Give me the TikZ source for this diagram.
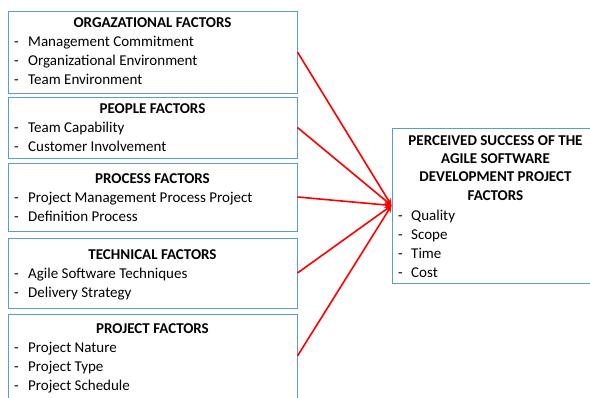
\documentclass[tikz,border=0pt]{standalone}
\usepackage{fontspec}
\setmainfont{Carlito}
\usetikzlibrary{arrows.meta}
\definecolor{boxblue}{RGB}{91,155,213}
\begin{document}
\begin{tikzpicture}[x=1pt,y=-1pt,
  box/.style={draw=boxblue,line width=0.9pt,inner sep=0pt,rectangle},
  lbox/.style={box,minimum width=289pt},
  txt/.style={inner sep=0pt,anchor=base west,font=\fontsize{15}{18}\selectfont},
  ttl/.style={inner sep=0pt,anchor=base,font=\fontsize{15}{18}\selectfont\bfseries},
  link/.style={draw=red,line width=1.6pt,-{Stealth[length=7pt,width=6pt]}}]
\useasboundingbox (0,0) rectangle (590,397);
% boxes
\node[lbox,minimum height=82pt] (b1) at (152.5,52) {};
\node[lbox,minimum height=61pt] (b2) at (152.5,127.5) {};
\node[lbox,minimum height=68pt] (b3) at (152.5,197) {};
\node[lbox,minimum height=70pt] (b4) at (152.5,273) {};
\node[lbox,minimum height=84pt] (b5) at (152.5,356) {};
\node[box,minimum width=199pt,minimum height=155pt] (r) at (491.5,205.5) {};
% box 1
\node[ttl] (t1) at (152.5,27) {ORGAZATIONAL FACTORS};
\node[txt] (d11) at (14,46) {-}; \node[txt] (i11) at (28,46) {Management Commitment};
\node[txt] (d12) at (14,65) {-}; \node[txt] (i12) at (28,65) {Organizational Environment};
\node[txt] (d13) at (14,84) {-}; \node[txt] (i13) at (28,84) {Team Environment};
% box 2
\node[ttl] (t2) at (152.5,113) {PEOPLE FACTORS};
\node[txt] (d21) at (14,132) {-}; \node[txt] (i21) at (28,132) {Team Capability};
\node[txt] (d22) at (14,151) {-}; \node[txt] (i22) at (28,151) {Customer Involvement};
% box 3
\node[ttl] (t3) at (152.5,183.3) {PROCESS FACTORS};
\node[txt] (d31) at (14,202.3) {-}; \node[txt] (i31) at (28,202.3) {Project Management Process Project};
\node[txt] (d32) at (14,221.3) {-}; \node[txt] (i32) at (28,221.3) {Definition Process};
% box 4
\node[ttl] (t4) at (152.5,259.3) {TECHNICAL FACTORS};
\node[txt] (d41) at (14,278.3) {-}; \node[txt] (i41) at (28,278.3) {Agile Software Techniques};
\node[txt] (d42) at (14,297.3) {-}; \node[txt] (i42) at (28,297.3) {Delivery Strategy};
% box 5
\node[ttl] (t5) at (152.5,333.3) {PROJECT FACTORS};
\node[txt] (d51) at (14,352) {-}; \node[txt] (i51) at (28,352) {Project Nature};
\node[txt] (d52) at (14,371) {-}; \node[txt] (i52) at (28,371) {Project Type};
\node[txt] (d53) at (14,390) {-}; \node[txt] (i53) at (28,390) {Project Schedule};
% right box
\node[ttl] (r1) at (495.5,145.7) {PERCEIVED SUCCESS OF THE};
\node[ttl] (r2) at (495.5,163.8) {AGILE SOFTWARE};
\node[ttl] (r3) at (495.5,181.9) {DEVELOPMENT PROJECT};
\node[ttl] (r4) at (495.5,200) {FACTORS};
\node[txt] (rd1) at (398,220) {-}; \node[txt] (ri1) at (411,220) {Quality};
\node[txt] (rd2) at (398,239) {-}; \node[txt] (ri2) at (411,239) {Scope};
\node[txt] (rd3) at (398,258) {-}; \node[txt] (ri3) at (411,258) {Time};
\node[txt] (rd4) at (398,277) {-}; \node[txt] (ri4) at (411,277) {Cost};
% links
\foreach \b in {b1,b2,b3,b4,b5} \draw[link] (\b.east) -- (r.west);
\end{tikzpicture}
\end{document}
